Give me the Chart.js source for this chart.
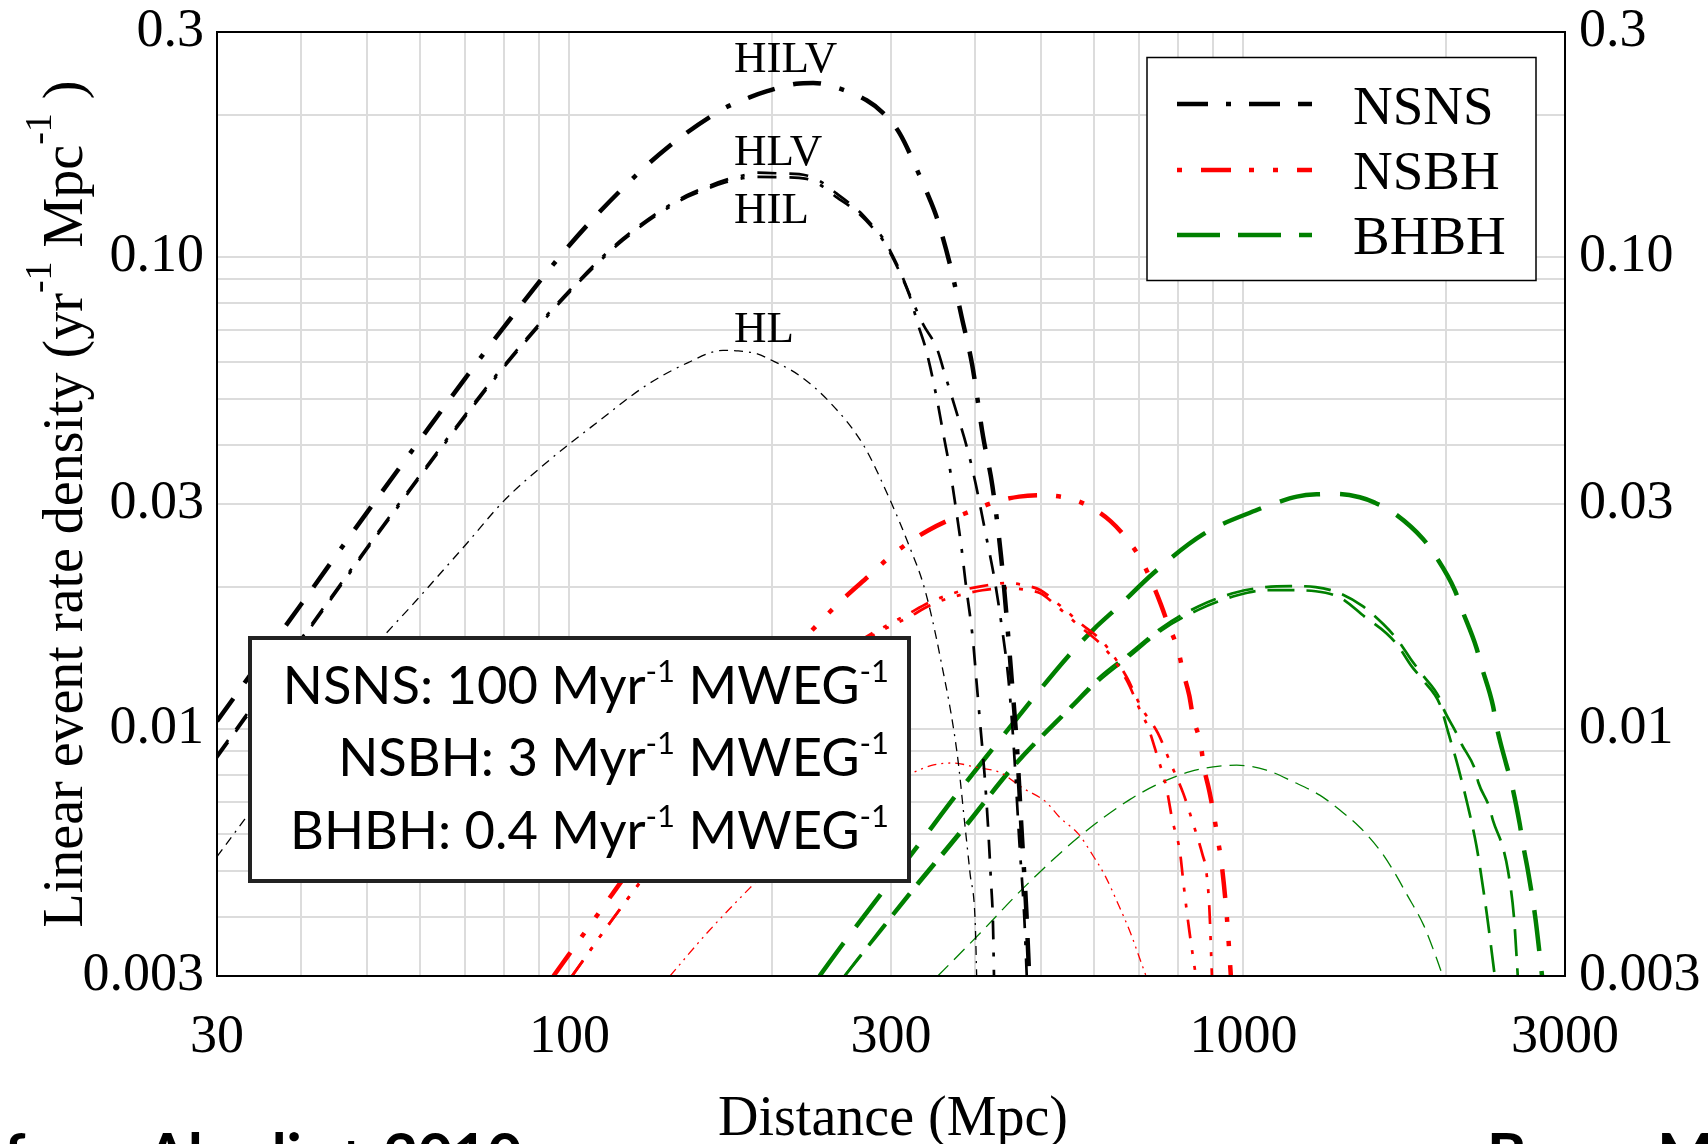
<!DOCTYPE html>
<html><head><meta charset="utf-8">
<script src="https://cdn.jsdelivr.net/npm/chart.js@4/dist/chart.umd.min.js"></script>
<style>html,body{margin:0;padding:0;background:#fff;}#wrap{width:1708px;height:1144px;position:relative;}</style>
</head><body><div id="wrap"><canvas id="c" width="1708" height="1144"></canvas></div>
<script>
// ---------- DATA ----------
const xTickValues = [30,40,50,60,70,80,90,100,200,300,400,500,600,700,800,900,1000,2000,3000];
const xTickLabels = ['30','100','300','1000','3000'];
const xLabelValues = [30,100,300,1000,3000];
const yTickValues = [0.003,0.004,0.005,0.006,0.007,0.008,0.009,0.01,0.02,0.03,0.04,0.05,0.06,0.07,0.08,0.09,0.1,0.2,0.3];
const yLabelValues = [0.003,0.01,0.03,0.1,0.3];
const yTickLabels = ['0.003','0.01','0.03','0.10','0.3'];

const legendLabels = ['NSNS','NSBH','BHBH'];
const networkLabels = ['HILV','HLV','HIL','HL'];
const rateTexts = [['NSNS: 100 Myr','-1',' MWEG','-1'],['NSBH: 3 Myr','-1',' MWEG','-1'],['BHBH: 0.4 Myr','-1',' MWEG','-1']];

// NSNS
const nsnsHILV_d = [30,40,50,60,70,80,100,120,140,169,185,197,217,230,252,276,291,309,330,343,351,368,382,396,411,424,437,445,453,461,469,476,481];
const nsnsHILV_r = [0.0104,0.0184,0.0287,0.0410,0.0553,0.0712,0.106,0.140,0.171,0.206,0.218,0.225,0.233,0.234,0.2275,0.215,0.203,0.183,0.150,0.132,0.121,0.095,0.0746,0.059,0.0416,0.0329,0.0232,0.0175,0.0128,0.0093,0.0060,0.0042,0.0030];
const nsnsHLV_d = [30,40,50,60,70,80,100,120,146,156,171,183,190,205,225,238,249,261,270,281,292,309,320,335,351,361,373,391,401,414,428,438,448,456,465,473,477];
const nsnsHLV_r = [0.0088,0.01555,0.0242,0.0345,0.0463,0.0590,0.0850,0.1095,0.1330,0.1390,0.1460,0.1495,0.1510,0.1505,0.1490,0.1435,0.1365,0.1297,0.1245,0.1170,0.1096,0.0939,0.0831,0.0720,0.0640,0.0562,0.0483,0.0384,0.0329,0.0262,0.0205,0.0165,0.0128,0.0093,0.0058,0.0040,0.0030];
const nsnsHIL_d = [30,40,50,60,70,80,100,120,146,156,171,183,190,205,225,238,249,261,270,281,292,309,320,329,337,343,351,359,367,373,382,387,397,402,407,413,418,422,425,426.5];
const nsnsHIL_r = [0.0087,0.0154,0.0240,0.0342,0.0459,0.0585,0.0843,0.1085,0.1318,0.1376,0.1443,0.1474,0.1480,0.1478,0.1465,0.1410,0.1340,0.1280,0.1230,0.1160,0.1085,0.0930,0.0825,0.0720,0.0648,0.0585,0.0500,0.0420,0.0355,0.0305,0.0240,0.0205,0.0154,0.0125,0.0102,0.0080,0.0062,0.0048,0.0039,0.0030];
const nsnsHL_d = [30,40,50,59.4,70,80,92,110,130,150,169,178,190,198,220,243,273,299,318,337,355,376,386,393,400,402];
const nsnsHL_r = [0.00537,0.00935,0.0143,0.0188,0.0245,0.0305,0.0365,0.0447,0.0535,0.0598,0.0635,0.0633,0.0624,0.0608,0.0560,0.0494,0.0400,0.0306,0.0248,0.0197,0.0142,0.0089,0.0063,0.00495,0.0039,0.0030];
// NSBH
const nsbhHILV_d = [94.7,110,130,150,175,200,230,255,279,299,318,341,365,400,428,465,502,553,592,635,667,706,729,753,773,800,814,831,842,864,874,890,902,917,928,945,958];
const nsbhHILV_r = [0.003,0.00404,0.00563,0.00745,0.0101,0.0130,0.0163,0.0189,0.0212,0.0232,0.0248,0.0264,0.0277,0.0292,0.0303,0.0311,0.0313,0.0308,0.0296,0.0276,0.0256,0.0228,0.0207,0.0185,0.0167,0.0147,0.0132,0.0118,0.0106,0.0093,0.0083,0.0074,0.0067,0.0058,0.0052,0.0040,0.0030];
const nsbhHLV_d = [100.9,115,130,150,175,200,230,255,282,296,317,343,363,389,410,445,480,500,534,572,621,671,706,747,778,814,841,870,880,890,898];
const nsbhHLV_r = [0.003,0.0039,0.00494,0.00645,0.0086,0.0110,0.0132,0.0146,0.0160,0.0166,0.0175,0.0186,0.0192,0.0198,0.0201,0.0204,0.0201,0.0197,0.0183,0.0168,0.0152,0.0129,0.0111,0.0098,0.00853,0.00732,0.00635,0.00541,0.00505,0.0042,0.0030];
const nsbhHIL_d = [100.9,115,130,150,175,200,230,255,282,296,317,343,363,389,410,445,480,500,534,572,621,671,706,722,745,769,784,805,815,830,850];
const nsbhHIL_r = [0.003,0.0039,0.00492,0.0064,0.0085,0.0108,0.0130,0.0144,0.0158,0.0164,0.0172,0.0183,0.0189,0.0194,0.0197,0.0199,0.0197,0.0194,0.0180,0.0165,0.0149,0.0127,0.0108,0.0101,0.00877,0.0075,0.00644,0.0055,0.0047,0.0038,0.0030];
const nsbhHL_d = [141,160,185,210,240,270,300,324,347,370,402,435,471,510,534,569,598,623,650,680,700,717];
const nsbhHL_r = [0.003,0.0037,0.0046,0.0055,0.0064,0.0071,0.0077,0.0081,0.0084,0.00848,0.0083,0.0081,0.0075,0.0070,0.0065,0.0060,0.0054,0.0049,0.0043,0.0037,0.0033,0.0030];
// BHBH
const bhbhHILV_d = [235,255,289,330,373,423,482,550,600,650,735,872,1051,1120,1200,1284,1374,1488,1566,1667,1847,1923,2059,2107,2216,2255,2346,2373,2456,2498,2570,2599,2644,2710,2774];
const bhbhHILV_r = [0.003,0.00352,0.00445,0.0057,0.00719,0.00903,0.0114,0.0143,0.0163,0.0181,0.0214,0.0259,0.0292,0.0302,0.0311,0.03145,0.0315,0.0310,0.0302,0.0288,0.0253,0.0234,0.0197,0.0180,0.0149,0.0136,0.0112,0.0102,0.0084,0.0077,0.0063,0.0057,0.0050,0.0040,0.0030];
const bhbhHLV_d = [256,290,324,384,458,556,612,679,756,857,977,1080,1172,1280,1391,1505,1612,1697,1776,1847,1956,1978,2071,2107,2207,2232,2320,2346,2428,2470,2520,2553];
const bhbhHLV_r = [0.003,0.00378,0.00462,0.0062,0.00846,0.01124,0.0129,0.0145,0.0164,0.0182,0.0195,0.0200,0.0201,0.0200,0.0194,0.0182,0.0167,0.0154,0.0140,0.0130,0.0116,0.0111,0.0098,0.0093,0.0082,0.0077,0.0068,0.0064,0.0056,0.0050,0.0040,0.0030];
const bhbhHIL_d = [256,290,324,384,458,556,612,679,756,857,977,1080,1172,1280,1391,1514,1631,1697,1776,1847,1956,2012,2082,2154,2216,2247,2300,2360];
const bhbhHIL_r = [0.003,0.00374,0.00455,0.0061,0.00835,0.0111,0.0127,0.0143,0.0162,0.0179,0.0192,0.0197,0.0197,0.0196,0.0190,0.0173,0.01595,0.0150,0.0136,0.0127,0.0113,0.00987,0.00832,0.00685,0.00568,0.00503,0.0040,0.0030];
const bhbhHL_d = [352,407,471,569,679,760,833,902,977,1082,1185,1298,1390,1488,1594,1667,1750,1850,1930,1976];
const bhbhHL_r = [0.003,0.0037,0.0046,0.0059,0.0071,0.00774,0.00813,0.00832,0.00839,0.00819,0.00774,0.00725,0.00674,0.0062,0.00554,0.00503,0.00445,0.00385,0.0033,0.0030];

// ---------- STYLES ----------
const COL = {NSNS:'#000000', NSBH:'#ff0000', BHBH:'#008000'};
const W = {thick:4.5, med:2.7, thin:1.3};
const DASH = {
  NSNS:{thick:[28,19,28,19,5,19], med:[19,13,19,13,4,13], thin:[9,6,9,6,2,6]},
  NSBH:{thick:[29,19,5,19,5,19], med:[19,12,4,12,4,12], thin:[9,5,2,5,2,5]},
  BHBH:{thick:[41,20], med:[27,12], thin:[15,8]}
};
const LEG_DASH = {NSNS:[31,18,5,18,31,18], NSBH:[5,19,30,18,5,19], BHBH:[43,18]};

function pts(d,r){ return d.map((v,i)=>({x:v,y:r[i]})); }
function ds(kind,w,d,r){
  return {data:pts(d,r), showLine:true, pointRadius:0, borderColor:COL[kind], borderWidth:W[w],
    borderDash:DASH[kind][w], fill:false, cubicInterpolationMode:'monotone', clip:0, borderCapStyle:'butt'};
}
const datasets = [
  ds('NSNS','thin',nsnsHL_d,nsnsHL_r), ds('NSNS','med',nsnsHIL_d,nsnsHIL_r), ds('NSNS','med',nsnsHLV_d,nsnsHLV_r), ds('NSNS','thick',nsnsHILV_d,nsnsHILV_r),
  ds('NSBH','thin',nsbhHL_d,nsbhHL_r), ds('NSBH','med',nsbhHIL_d,nsbhHIL_r), ds('NSBH','med',nsbhHLV_d,nsbhHLV_r), ds('NSBH','thick',nsbhHILV_d,nsbhHILV_r),
  ds('BHBH','thin',bhbhHL_d,bhbhHL_r), ds('BHBH','med',bhbhHIL_d,bhbhHIL_r), ds('BHBH','med',bhbhHLV_d,bhbhHLV_r), ds('BHBH','thick',bhbhHILV_d,bhbhHILV_r)
];

const SERIF = '"Liberation Serif","Times New Roman",serif';
const SANS = 'Lato,"Open Sans",sans-serif';
function lab(vals,labels,v){ for(let i=0;i<vals.length;i++){ if(Math.abs(vals[i]-v)/vals[i]<1e-6) return labels[i]; } return ''; }

function richWidth(ctx,parts,f,fs){ let w=0; parts.forEach((p,i)=>{ ctx.font=(i%2?fs:f); w+=ctx.measureText(p).width; }); return w; }
function drawRich(ctx,parts,x,y,f,fs,rise){ parts.forEach((p,i)=>{ ctx.font=(i%2?fs:f); ctx.fillText(p,x,i%2?y-rise:y); x+=ctx.measureText(p).width; }); }

function noPadV(s){ s.width = (s.position==='left'?217:143); s.paddingTop=0; s.paddingBottom=0; }
function noPadH(s){ s.height=168; s.paddingLeft=0; s.paddingRight=0; }

const deco = {
  id:'deco',
  beforeDraw(chart){ const c=chart.ctx; c.save(); c.fillStyle='#fff'; c.fillRect(0,0,chart.width,chart.height); c.restore(); },
  afterDatasetsDraw(chart){
    const ctx=chart.ctx, a=chart.chartArea;
    ctx.save();
    ctx.strokeStyle='#000'; ctx.lineWidth=2; ctx.setLineDash([]);
    ctx.strokeRect(a.left,a.top,a.right-a.left,a.bottom-a.top);
    // network labels
    ctx.fillStyle='#000'; ctx.textAlign='left'; ctx.textBaseline='alphabetic';
    ctx.font='45px '+SERIF;
    const lblY=[72,165,223,342];
    networkLabels.forEach((t,i)=>ctx.fillText(t,734,lblY[i]));
    // legend
    ctx.fillStyle='#fff'; ctx.fillRect(1147,57.5,389,223);
    ctx.strokeStyle='#000'; ctx.lineWidth=1.5; ctx.strokeRect(1147,57.5,389,223);
    const rowY=[104,170,235], baseY=[123.5,188.5,253.5];
    legendLabels.forEach((t,i)=>{
      ctx.strokeStyle=COL[t]; ctx.lineWidth=4.3; ctx.setLineDash(LEG_DASH[t]);
      ctx.beginPath(); ctx.moveTo(1177,rowY[i]); ctx.lineTo(1312,rowY[i]); ctx.stroke();
      ctx.setLineDash([]); ctx.fillStyle='#000'; ctx.font='55px '+SERIF; ctx.fillText(t,1353,baseY[i]);
    });
    // rate box
    ctx.fillStyle='#fff'; ctx.fillRect(250,638,659,243);
    ctx.strokeStyle='#222'; ctx.lineWidth=4; ctx.strokeRect(250,638,659,243);
    ctx.fillStyle='#000';
    const f='52.5px '+SANS, fs='31px '+SANS;
    const bl=[704,776,849];
    rateTexts.forEach((parts,i)=>{ const w=richWidth(ctx,parts,f,fs); drawRich(ctx,parts,889-w,bl[i],f,fs,22); });
    ctx.restore();
  },
  afterDraw(chart){
    const ctx=chart.ctx;
    ctx.save(); ctx.fillStyle='#000'; ctx.textBaseline='alphabetic'; ctx.textAlign='left';
    // x title
    ctx.font='56px '+SERIF; const t='Distance (Mpc)'; const tw=ctx.measureText(t).width;
    ctx.fillText(t,893-tw/2,1135);
    // y title rotated
    const parts=['Linear event rate density (yr','-1',' Mpc','-1',' )'];
    const f='56px '+SERIF, fs='38px '+SERIF;
    ctx.translate(82,504); ctx.rotate(-Math.PI/2);
    const w=richWidth(ctx,parts,f,fs);
    drawRich(ctx,parts,-w/2,0,f,fs,31);
    ctx.restore();
    // cropped footer
    ctx.save(); ctx.fillStyle='#000'; ctx.font='bold 60px '+SANS; ctx.textBaseline='alphabetic';
    ctx.fillText('from Abadie+ 2010',4,1176);
    ctx.fillText('Bruce M',1487,1176);
    ctx.restore();
  }
};

new Chart(document.getElementById('c'),{
  type:'scatter',
  data:{datasets},
  options:{
    responsive:false, animation:false, devicePixelRatio:1,
    layout:{padding:{top:32,left:0,right:0,bottom:0}},
    plugins:{legend:{display:false},tooltip:{enabled:false}},
    scales:{
      x:{type:'logarithmic',position:'bottom',min:30,max:3000,
        afterBuildTicks:s=>{s.ticks=xTickValues.map(v=>({value:v}));},
        afterFit:noPadH,
        ticks:{autoSkip:false,maxRotation:0,minRotation:0,padding:29,color:'#000',font:{family:SERIF,size:54},
          callback:v=>lab(xLabelValues,xTickLabels,v)},
        grid:{color:'#dcdcdc',lineWidth:2,drawTicks:false},border:{display:false}},
      y:{type:'logarithmic',position:'left',min:0.003,max:0.3,
        afterBuildTicks:s=>{s.ticks=yTickValues.map(v=>({value:v}));},
        afterFit:noPadV,
        ticks:{autoSkip:false,padding:13,color:'#000',font:{family:SERIF,size:54},
          callback:v=>lab(yLabelValues,yTickLabels,v)},
        grid:{color:'#dcdcdc',lineWidth:2,drawTicks:false},border:{display:false}},
      y2:{type:'logarithmic',position:'right',min:0.003,max:0.3,
        afterBuildTicks:s=>{s.ticks=yTickValues.map(v=>({value:v}));},
        afterFit:noPadV,
        ticks:{autoSkip:false,padding:14,color:'#000',font:{family:SERIF,size:54},
          callback:v=>lab(yLabelValues,yTickLabels,v)},
        grid:{display:false,drawTicks:false},border:{display:false}}
    }
  },
  plugins:[deco]
});
</script></body></html>
